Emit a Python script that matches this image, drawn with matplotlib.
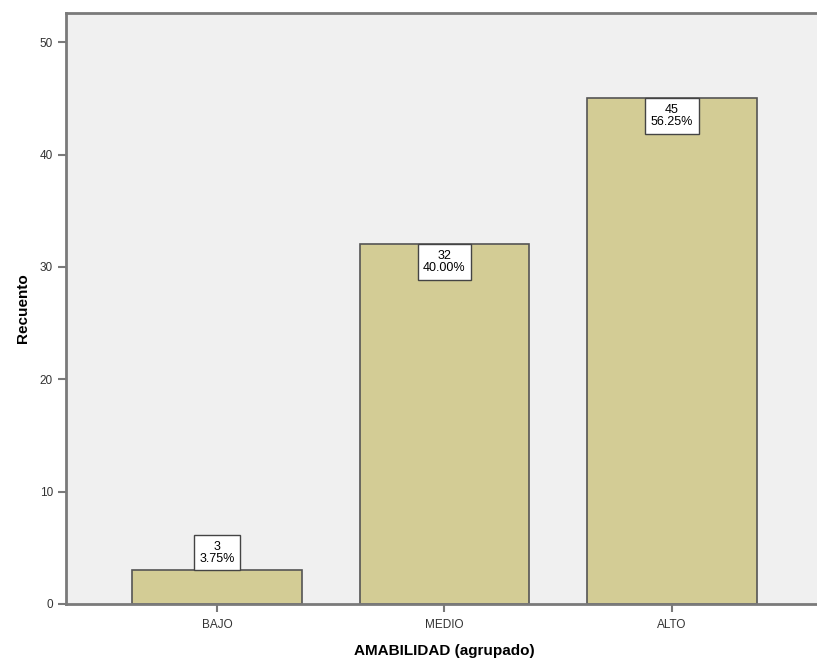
import matplotlib.pyplot as plt
import numpy as np

plt.rcParams['font.family'] = ['Liberation Sans', 'DejaVu Sans']

CATEGORIES = ['BAJO', 'MEDIO', 'ALTO']
COUNTS = [3, 32, 45]
PERCENTS = ['3.75%', '40.00%', '56.25%']

BAR_COLOR = '#d3cc95'
EDGE = '#555555'
SPINE = '#7a7a7a'

fig = plt.figure(figsize=(8.17, 6.67), dpi=100)
ax = fig.add_axes([66 / 817, 1 - 604 / 667, (823 - 66) / 817, (604 - 13) / 667])
ax.set_facecolor('#f0f0f0')

x = np.arange(len(CATEGORIES))
bars = ax.bar(x, COUNTS, width=0.747, color=BAR_COLOR, edgecolor=EDGE, linewidth=1.2, zorder=2)

ax.set_xlim(-0.664, 2.664)
ax.set_ylim(0, 52.6)
ax.set_yticks([0, 10, 20, 30, 40, 50])
ax.set_xticks(x)
ax.set_xticklabels(CATEGORIES)

for s in ['left', 'bottom', 'top']:
    ax.spines[s].set_color(SPINE)
    ax.spines[s].set_linewidth(2)
ax.spines['right'].set_visible(False)
ax.tick_params(axis='both', colors=SPINE, labelcolor='#333333', labelsize=8.5,
               length=6, width=1.5, direction='out')
ax.tick_params(axis='x', pad=5)

box = dict(boxstyle='square,pad=0.45', fc='white', ec='#444444', lw=1)
for xi, c, p in zip(x, COUNTS, PERCENTS):
    label = '%d\n%s' % (c, p)
    if c < 10:
        ax.annotate(label, (xi, c), xytext=(0, 4), textcoords='offset points',
                    ha='center', va='bottom', fontsize=9, linespacing=1.0,
                    bbox=box, zorder=3)
    else:
        ax.annotate(label, (xi, c), xytext=(0, -4), textcoords='offset points',
                    ha='center', va='top', fontsize=9, linespacing=1.0,
                    bbox=box, zorder=3)

ax.set_xlabel('AMABILIDAD (agrupado)', fontsize=11, fontweight='bold', labelpad=9)
ax.set_ylabel('Recuento', fontsize=11, fontweight='bold', labelpad=7)

fig.savefig('out.png', dpi=100)
